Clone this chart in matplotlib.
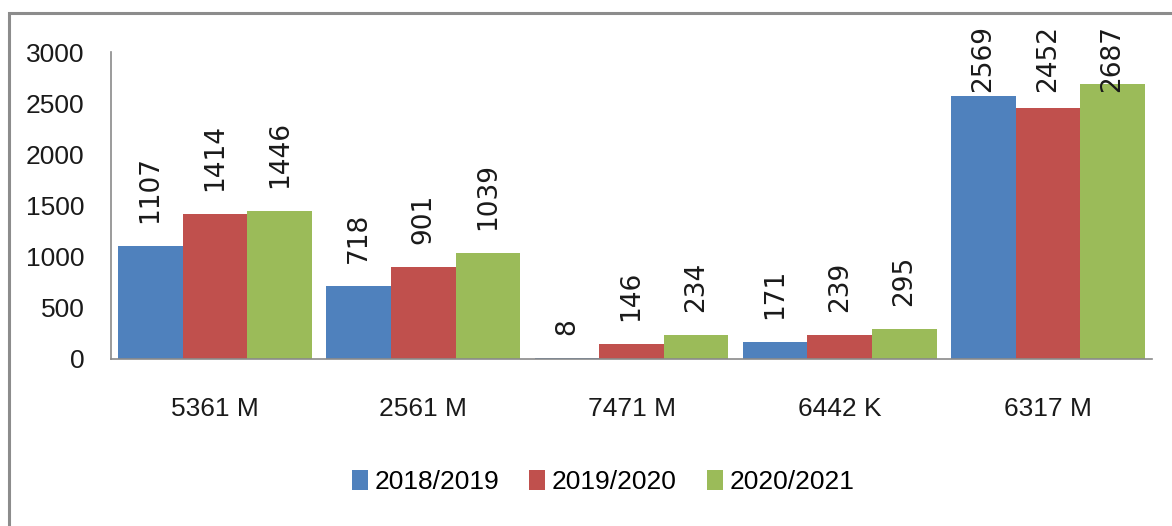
import matplotlib
matplotlib.use("Agg")
import matplotlib.pyplot as plt
from matplotlib.patches import Rectangle, Patch

categories = ["5361 M", "2561 M", "7471 M", "6442 K", "6317 M"]
series_names = ["2018/2019", "2019/2020", "2020/2021"]
values_2018 = [1107, 718, 8, 171, 2569]
values_2019 = [1414, 901, 146, 239, 2452]
values_2020 = [1446, 1039, 234, 295, 2687]
series_values = [values_2018, values_2019, values_2020]
colors = ["#4F81BD", "#C0504D", "#9BBB59"]
yticks = [0, 500, 1000, 1500, 2000, 2500, 3000]

W, H = 1172, 526
fig = plt.figure(figsize=(W / 100, H / 100), dpi=100)
fig.patch.set_facecolor("white")

# outer border (extends beyond right/bottom like the reference)
fig.patches.append(Rectangle((9 / W, -0.05), 1.2, (H - 13) / H + 0.05,
                             transform=fig.transFigure, fill=False,
                             edgecolor="#8c8c8c", linewidth=2.2, zorder=0))

narrow = ["Liberation Sans", "DejaVu Sans"]
ax = fig.add_axes([111 / W, (H - 359) / H, (1152 - 111) / W, (359 - 52) / H])
ax.set_facecolor("none")

bw = 0.31
xs = list(range(len(categories)))
texts = []
for j, (vals, col, name) in enumerate(zip(series_values, colors, series_names)):
    pos = [x + (j - 1) * bw for x in xs]
    ax.bar(pos, vals, width=bw, color=col, edgecolor="none", label=name, zorder=2)
    for p, v in zip(pos, vals):
        t = ax.annotate(str(v), xy=(p, v), xytext=(0, 16.5), textcoords="offset points",
                        ha="center", va="bottom", rotation=90, fontsize=19,
                        family="DejaVu Sans", color="#1a1a1a", annotation_clip=False)
        texts.append(t)

ax.set_xlim(-0.5, len(categories) - 0.5)
ax.set_ylim(0, 3000)
ax.set_yticks(yticks)
ax.set_yticklabels([str(v) for v in yticks], family=narrow, fontsize=19, color="#1a1a1a")
ax.set_xticks(xs)
ax.set_xticklabels(categories, family=narrow, fontsize=19, color="#1a1a1a")
ax.tick_params(axis="y", length=0, pad=19)
ax.tick_params(axis="x", length=0, pad=27)
for s in ["top", "right"]:
    ax.spines[s].set_visible(False)
for s in ["left", "bottom"]:
    ax.spines[s].set_color("#8a8a8a")
    ax.spines[s].set_linewidth(1.2)

handles = [Patch(facecolor=c, edgecolor="none") for c in colors]
fig.legend(handles, series_names, loc="center", bbox_to_anchor=(603 / W, (H - 482) / H),
           ncol=3, frameon=False, prop={"family": narrow, "size": 19},
           handlelength=0.6, handleheight=0.8, handletextpad=0.25,
           columnspacing=1.15, borderaxespad=0)

# clamp labels that would run over the top limit
fig.canvas.draw()
r = fig.canvas.get_renderer()
top_limit = H - 25
for t in texts:
    ext = t.get_window_extent(r)
    if ext.y1 > top_limit:
        excess = ext.y1 - top_limit
        t.xyann = (0, 16.5 - excess * 72 / 100)

fig.savefig("out.png", dpi=100)
